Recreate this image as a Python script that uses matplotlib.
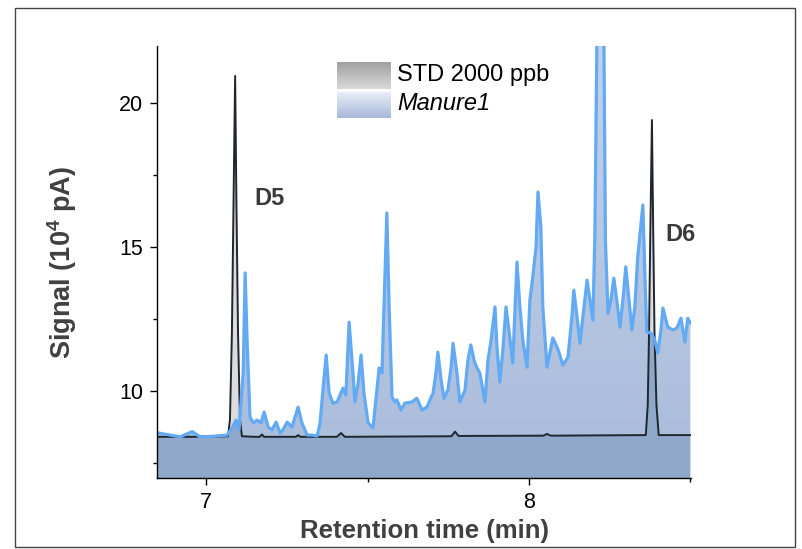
import numpy as np
import matplotlib
matplotlib.use('Agg')
import matplotlib.pyplot as plt
from matplotlib.colors import LinearSegmentedColormap
from matplotlib.ticker import FixedLocator
from matplotlib.patches import Rectangle

plt.rcParams['font.family'] = ['Liberation Sans', 'DejaVu Sans']
plt.rcParams['mathtext.fontset'] = 'custom'
plt.rcParams['mathtext.rm'] = 'Liberation Sans'
plt.rcParams['mathtext.bf'] = 'Liberation Sans:bold'
plt.rcParams['mathtext.it'] = 'Liberation Sans:italic'

# ---------------- data ----------------
manure_time = [
    6.848, 6.889, 6.920, 6.957, 6.981, 7.022, 7.065, 7.080, 7.093, 7.102,
    7.115, 7.121, 7.127, 7.136, 7.146, 7.158, 7.170, 7.180, 7.192, 7.204,
    7.217, 7.229, 7.238, 7.251, 7.266, 7.285, 7.297, 7.313, 7.328, 7.344,
    7.353, 7.362, 7.372, 7.381, 7.393, 7.406, 7.424, 7.433, 7.443, 7.455,
    7.461, 7.471, 7.480, 7.489, 7.502, 7.517, 7.529, 7.536, 7.545, 7.551,
    7.560, 7.567, 7.576, 7.585, 7.591, 7.604, 7.616, 7.638, 7.653, 7.669,
    7.684, 7.703, 7.712, 7.718, 7.728, 7.737, 7.749, 7.759, 7.765, 7.777,
    7.786, 7.802, 7.811, 7.820, 7.830, 7.839, 7.848, 7.864, 7.873, 7.882,
    7.895, 7.901, 7.910, 7.920, 7.929, 7.938, 7.950, 7.963, 7.972, 7.981,
    7.994, 8.003, 8.012, 8.022, 8.028, 8.037, 8.043, 8.056, 8.074, 8.087,
    8.093, 8.105, 8.121, 8.133, 8.139, 8.149, 8.158, 8.167, 8.180, 8.189,
    8.198, 8.204, 8.211, 8.221, 8.232, 8.237, 8.245, 8.254, 8.263, 8.272,
    8.282, 8.291, 8.300, 8.310, 8.319, 8.328, 8.337, 8.353, 8.359, 8.365,
    8.378, 8.390, 8.399, 8.409, 8.415, 8.430, 8.446, 8.458, 8.471, 8.483,
    8.492, 8.500]
manure_signal = [
    8.54, 8.46, 8.40, 8.58, 8.40, 8.42, 8.46, 8.70, 8.98, 8.64,
    10.62, 14.09, 11.76, 9.09, 8.88, 8.98, 8.88, 9.26, 8.74, 8.64,
    8.91, 8.53, 8.64, 8.91, 8.74, 9.43, 8.88, 8.46, 8.46, 8.43,
    8.88, 10.02, 11.24, 9.92, 9.57, 9.61, 10.09, 9.85, 12.38, 10.61,
    9.61, 10.27, 11.24, 9.92, 8.88, 8.71, 10.02, 10.79, 10.62, 12.91,
    16.17, 12.91, 9.78, 9.61, 9.68, 9.33, 9.57, 9.61, 9.74, 9.33,
    9.43, 9.92, 10.61, 11.34, 10.37, 9.74, 10.02, 10.82, 11.65, 10.61,
    9.61, 10.02, 11.06, 11.59, 11.06, 10.79, 10.62, 9.61, 11.06, 11.69,
    12.91, 11.52, 10.30, 11.52, 12.91, 12.11, 10.96, 14.47, 12.91, 11.76,
    10.82, 13.15, 13.95, 14.99, 16.90, 15.68, 12.91, 10.82, 11.83, 11.52,
    11.34, 10.89, 11.17, 12.56, 13.49, 12.56, 11.65, 12.56, 13.84, 13.15,
    12.45, 15.23, 22.60, 26.00, 22.60, 15.20, 12.69, 13.15, 13.91, 13.15,
    12.21, 13.15, 14.30, 13.15, 12.11, 12.91, 14.65, 16.45, 14.09, 12.04,
    12.00, 11.76, 11.31, 12.11, 12.87, 12.21, 12.11, 12.17, 12.52, 11.69,
    12.52, 12.35]

std_time = [
    6.848, 6.950, 7.040, 7.068, 7.074, 7.080, 7.085, 7.090, 7.094, 7.099,
    7.105, 7.111, 7.150, 7.166, 7.173, 7.180, 7.278, 7.285, 7.292, 7.405,
    7.418, 7.430, 7.760, 7.771, 7.782, 8.045, 8.056, 8.067, 8.362, 8.368,
    8.372, 8.376, 8.381, 8.385, 8.389, 8.395, 8.402, 8.500]
std_signal = [
    8.40, 8.40, 8.41, 8.42, 9.00, 12.00, 16.50, 20.93, 16.50, 12.00,
    9.00, 8.42, 8.40, 8.40, 8.48, 8.40, 8.40, 8.46, 8.40, 8.40,
    8.53, 8.40, 8.42, 8.58, 8.43, 8.44, 8.50, 8.44, 8.46, 9.50,
    12.00, 15.50, 19.40, 15.50, 12.00, 9.50, 8.46, 8.46]

series_names = ['STD 2000 ppb', 'Manure1']
x_ticks = [7, 8]
x_minor = [7.5, 8.5]
y_ticks = [10, 15, 20]
y_minor = [7.5, 12.5, 17.5]
peak_labels = ['D5', 'D6']
peak_label_time = [7.198, 8.471]
peak_label_signal = [16.69, 15.41]

# ---------------- figure ----------------
W, H = 802, 549
fig = plt.figure(figsize=(W / 100, H / 100), dpi=100)
ax = fig.add_axes([157 / W, 1 - 478 / H, 534 / W, 432 / H])

xlo, xhi = 6.848, 8.502
ylo, yhi = 6.97, 21.97

# Manure fill (gradient, clipped to its area)
pm = ax.fill_between(manure_time, ylo, manure_signal, facecolor='none',
                     edgecolor='none', lw=0)
mpath = pm.get_paths()[0]
grad = np.linspace(0, 1, 256).reshape(-1, 1)
cm_m = LinearSegmentedColormap.from_list('m', ['#A9BCDA', '#C4D2EA'])
im = ax.imshow(grad, extent=[xlo, xhi, ylo, yhi], origin='lower',
               aspect='auto', cmap=cm_m, zorder=1, interpolation='bilinear')
im.set_clip_path(mpath, ax.transData)

# STD fill (light grey where above Manure)
ax.fill_between(std_time, ylo, std_signal, facecolor='#DCDCDC',
                edgecolor='none', lw=0, zorder=1.5)
# area under both curves
pd = ax.fill_between(std_time, ylo, std_signal, facecolor='#8FA8CA',
                     edgecolor='none', lw=0, zorder=1.6)
pd.set_clip_path(mpath, ax.transData)

# lines
ax.plot(std_time, std_signal, color='#20262F', lw=1.4, zorder=3,
        solid_joinstyle='round')
ax.plot(manure_time, manure_signal, color='#62AAF4', lw=2.3, zorder=4,
        solid_joinstyle='round', solid_capstyle='round')

ax.set_xlim(xlo, xhi)
ax.set_ylim(ylo, yhi)

for s in ['top', 'right']:
    ax.spines[s].set_visible(False)
for s in ['left', 'bottom']:
    ax.spines[s].set_linewidth(1.0)
    ax.spines[s].set_color('black')
    ax.spines[s].set_zorder(5)

ax.set_xticks(x_ticks)
ax.set_xticklabels([str(v) for v in x_ticks])
ax.xaxis.set_minor_locator(FixedLocator(x_minor))
ax.set_yticks(y_ticks)
ax.set_yticklabels([str(v) for v in y_ticks])
ax.yaxis.set_minor_locator(FixedLocator(y_minor))
ax.tick_params(which='major', length=5, width=1, direction='out',
               labelsize=15.5, pad=5, colors='black')
ax.tick_params(which='minor', length=3, width=1, direction='out')

ax.set_xlabel('Retention time (min)', fontsize=18.5, fontweight='bold',
              color='#404040')
ax.xaxis.set_label_coords(0.5, -0.094)
ax.set_ylabel(r'Signal (10$^{\mathbf{4}}$ pA)', fontsize=19.5,
              fontweight='bold', color='#404040')
ax.yaxis.set_label_coords(-0.146, 0.5)

for lab, tx, ty in zip(peak_labels, peak_label_time, peak_label_signal):
    ax.text(tx, ty, lab, fontsize=17, fontweight='bold', color='#3A3A3A',
            ha='center', va='center', zorder=6)

# legend with gradient swatches
def swatch(rect, colors):
    sax = ax.inset_axes(rect)
    cmap = LinearSegmentedColormap.from_list('s', colors)
    sax.imshow(np.linspace(0, 1, 64).reshape(-1, 1), aspect='auto',
               cmap=cmap, origin='upper', interpolation='bilinear')
    sax.set_axis_off()
    return sax

swatch([(337 - 157) / 534, (478 - 89) / 432, 54 / 534, 27 / 432],
       ['#A2A2A2', '#D8D8D8'])
swatch([(337 - 157) / 534, (478 - 118) / 432, 54 / 534, 26 / 432],
       ['#E8EEF8', '#A7BADA'])
ax.text((397 - 157) / 534, (478 - 75) / 432, series_names[0],
        transform=ax.transAxes, fontsize=17, ha='left', va='center',
        color='black', zorder=6)
ax.text((397 - 157) / 534, (478 - 103) / 432, series_names[1],
        transform=ax.transAxes, fontsize=17, ha='left', va='center',
        style='italic', color='black', zorder=6)

# outer frame
fig.patches.append(Rectangle((15 / W, 1 - 547 / H), 780 / W, 539 / H,
                             transform=fig.transFigure, fill=False,
                             edgecolor='#444444', lw=1.0))

fig.savefig('out.png', dpi=100)
